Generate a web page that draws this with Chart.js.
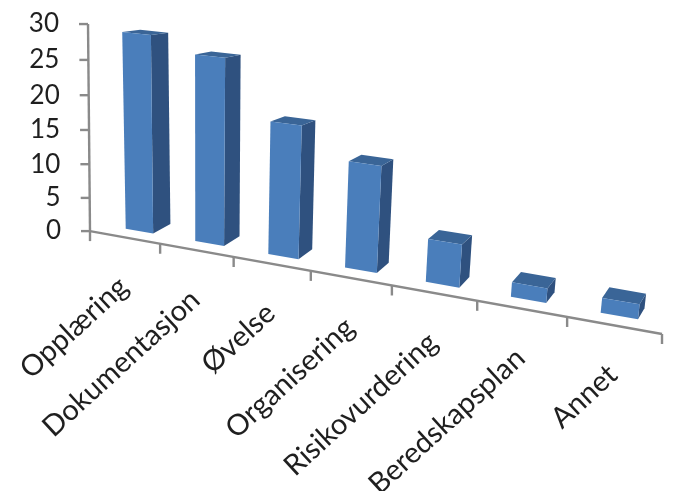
<!DOCTYPE html>
<html>
<head>
<meta charset="utf-8">
<style>html,body{margin:0;padding:0;background:#fff}canvas{display:block;filter:blur(0.5px)}</style>
<script src="https://cdn.jsdelivr.net/npm/chart.js@4/dist/chart.umd.min.js"></script>
</head>
<body>
<canvas id="c" width="684" height="491"></canvas>
<script>
const categories = ["Opplæring","Dokumentasjon","Øvelse","Organisering","Risikovurdering","Beredskapsplan","Annet"];
const values = [29,27,19,15,6,2,2];
const yMin = 0, yMax = 30, yStep = 5;

// Perspective of the 3-D scene: maps plot fractions (u across, v up) to the screen.
function frontPlane(u,v){
  const d = 1 - 0.1646*u - 0.0463*v;
  return [(451.3*u - 9.26*v + 105.5)/d, (45.9*u - 203.5*v + 225.1)/d];
}
function backPlane(u,v){
  const p = frontPlane(u,v);
  return [p[0] + 18.5 - 12.5*u, p[1] - 9.3 - 2*u + 7.5*v];
}
function axisPlane(u,v){
  const p = frontPlane(u,v);
  return [p[0] - 15.5 + 11*u + 2.6*v, p[1] + 6 + 3.6*u - 4.6*v];
}
const FONT = 'Lato, "Open Sans", sans-serif';

function poly(ctx, pts, fill){
  ctx.beginPath();
  pts.forEach((p,i)=> i ? ctx.lineTo(p[0],p[1]) : ctx.moveTo(p[0],p[1]));
  ctx.closePath();
  ctx.fillStyle = fill;
  ctx.fill();
}

const scene3d = {
  id:'scene3d',
  beforeDatasetsDraw(chart){
    const ctx = chart.ctx, a = chart.chartArea, xs = chart.scales.x, ys = chart.scales.y;
    const U = px => (px - a.left)/a.width;
    const V = py => (a.bottom - py)/a.height;
    ctx.save();

    // axes
    ctx.strokeStyle = '#8a8a8a';
    ctx.lineWidth = 2.4;
    const line = (p,q)=>{ctx.beginPath();ctx.moveTo(p[0],p[1]);ctx.lineTo(q[0],q[1]);ctx.stroke();};
    line(axisPlane(0,0),axisPlane(1,0));
    line(axisPlane(0,0),axisPlane(0,1));
    const n = categories.length;
    for(let k=0;k<=n;k++){
      const p = axisPlane(k/n,0);
      line(p,[p[0],p[1]+10]);
    }
    ctx.textBaseline='middle';
    ctx.textAlign='right';
    ctx.fillStyle='#1f1f1f';
    ctx.font='26px '+FONT;
    ys.ticks.forEach(t=>{
      const p = axisPlane(0,V(ys.getPixelForValue(t.value)));
      line(p,[p[0]-9,p[1]]);
      ctx.fillText(t.label,p[0]-29,p[1]);
    });

    // category labels
    ctx.font='29px '+FONT;
    ctx.textBaseline='middle';
    xs.ticks.forEach((t,i)=>{
      const p = axisPlane(U(xs.getPixelForTick(i)),0);
      ctx.save();
      ctx.translate(p[0]-1,p[1]+45);
      ctx.rotate(-42.5*Math.PI/180);
      ctx.fillText(xs.getLabelForValue(t.value),0,0);
      ctx.restore();
    });

    // bars
    chart.getDatasetMeta(0).data.forEach(bar=>{
      const uL=U(bar.x-bar.width/2), uR=U(bar.x+bar.width/2), vT=V(bar.y), vB=V(bar.base);
      const fTL=frontPlane(uL,vT), fTR=frontPlane(uR,vT), fBR=frontPlane(uR,vB), fBL=frontPlane(uL,vB);
      const bTL=backPlane(uL,vT), bTR=backPlane(uR,vT), bBR=backPlane(uR,vB);
      poly(ctx,[fTR,bTR,bBR,fBR],'#2f517f');
      poly(ctx,[fTL,fTR,bTR,bTL],'#3a6597');
      poly(ctx,[fTL,fTR,fBR,fBL],'#4a7ebb');
    });
    ctx.restore();
    return false;
  }
};

new Chart(document.getElementById('c'),{
  type:'bar',
  data:{labels:categories,datasets:[{data:values,backgroundColor:'#4a7ebb',barPercentage:0.4,categoryPercentage:1}]},
  options:{
    responsive:false,animation:false,
    layout:{padding:{left:60,right:60,top:40,bottom:60}},
    plugins:{legend:{display:false},tooltip:{enabled:false},title:{display:false}},
    scales:{
      x:{display:false,type:'category',ticks:{autoSkip:false}},
      y:{display:false,min:yMin,max:yMax,ticks:{stepSize:yStep}}
    }
  },
  plugins:[scene3d]
});
</script>
</body>
</html>
